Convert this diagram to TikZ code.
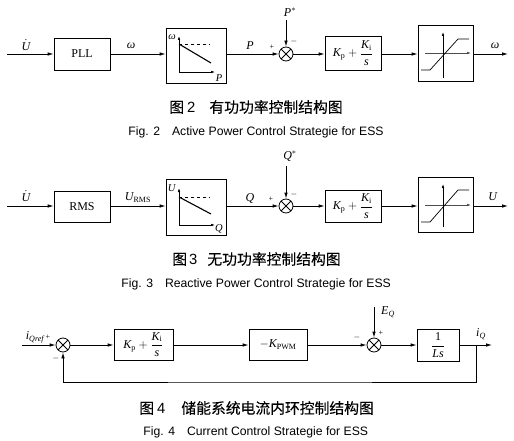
\documentclass[tikz,border=0pt]{standalone}
\usepackage{amsmath}
\usepackage{fontspec}
\setmainfont{Liberation Serif}
\newfontfamily\cjk[FakeBold=0.2]{Noto Sans CJK SC}
\newfontfamily\arialf{Liberation Sans}
\usetikzlibrary{arrows.meta}
\newcommand{\mi}[1]{\textit{#1}}
\newcommand{\pifrac}{$\mi{K}_{\text{p}}+\dfrac{\mi{K}_{\text{i}}}{\mi{s}}$}
\begin{document}
\begin{tikzpicture}[x=1pt,y=-1pt,line width=0.8pt,
  >={Latex[length=6pt,width=3.5pt]},
  box/.style={draw,inner sep=0pt,font=\fontsize{12}{14}\selectfont},
  sumj/.style={circle,draw,minimum size=14pt,inner sep=0pt,
    path picture={\draw (path picture bounding box.north west)--(path picture bounding box.south east)
      (path picture bounding box.north east)--(path picture bounding box.south west);}},
  lbl/.style={inner sep=0pt,font=\fontsize{12}{14}\selectfont},
  sgn/.style={inner sep=0pt,font=\fontsize{8}{9}\selectfont},
  capcn/.style={inner sep=0pt,anchor=west,font=\fontsize{14.8}{16}\selectfont},
  capen/.style={inner sep=0pt,anchor=west,font=\arialf\fontsize{12.2}{14}\selectfont},
  axis/.style={line width=0.6pt,-{Latex[length=4pt,width=2.5pt]}}]
\useasboundingbox (0,0) rectangle (514,441);

% ================= Fig. 2 =================
\coordinate (in2) at (7,54);
\node[box,minimum width=56pt,minimum height=32pt] (pll) at (82,54) {PLL};
\node[box,minimum width=60pt,minimum height=55pt] (dr2) at (196,55.5) {};
\node[sumj] (s2) at (286,54) {};
\node[box,minimum width=56pt,minimum height=34pt] (pi2) at (353,53) {\pifrac};
\node[box,minimum width=55pt,minimum height=56pt] (lim2) at (445.5,53) {};
\coordinate (out2) at (508,54);
\coordinate (ref2) at (286,20);

\draw[->] (in2) -- (pll.west);
\draw[->] (pll.east) -- (pll.east -| dr2.west);
\draw[->] (dr2.east |- s2) -- (s2.west);
\draw[->] (ref2) -- (s2.north);
\draw[->] (s2.east) -- (s2 -| pi2.west);
\draw[->] (pi2.east |- s2) -- (s2 -| lim2.west);
\draw[->] (lim2.east |- s2) -- (out2);

\node[lbl] (l2a) at (26,45) {$\dot{\mi{U}}$};
\node[lbl] (l2b) at (131,46) {\mi{ω}};
\node[lbl] (l2c) at (250,46) {\mi{P}};
\node[lbl] (l2d) at (290,12) {$\mi{P}^{*}$};
\node[lbl] (l2e) at (495,46) {\mi{ω}};
\node[sgn] (p2) at (272,47) {+};
\node[sgn] (m2) at (294,42) {$-$};

% droop
\draw[axis] (179,72) -- (179,36);
\draw[axis] (179,72) -- (215,72);
\draw[line width=0.6pt,dashed] (179,44) -- (210,44);
\draw[line width=1.1pt] (179,44) -- (211,63);
\node[lbl,font=\fontsize{10.5}{12}\selectfont] (d2w) at (172,37) {\mi{ω}};
\node[lbl,font=\fontsize{10.5}{12}\selectfont] (d2p) at (219,78) {\mi{P}};
% limiter
\draw[axis,draw=black!70] (425,53) -- (471,53);
\draw[axis] (443,78) -- (443,32);
\draw[line width=0.7pt] (421,70) -- (430,70) -- (458,39) -- (469,39);

\node[capcn] (c2cn) at (169,107) {{\cjk 图}\hspace{3pt}{\arialf 2}\hspace{14pt}{\cjk 有功功率控制结构图}};
\node[capen] (c2en) at (128,132) {Fig. 2\hspace{12pt}Active Power Control Strategie for ESS};

% ================= Fig. 3 =================
\coordinate (in3) at (7,206);
\node[box,minimum width=56pt,minimum height=31pt] (rms) at (82,206.5) {RMS};
\node[box,minimum width=60pt,minimum height=56pt] (dr3) at (196,207) {};
\node[sumj] (s3) at (286,206) {};
\node[box,minimum width=56pt,minimum height=32pt] (pi3) at (353,206) {\pifrac};
\node[box,minimum width=55pt,minimum height=55pt] (lim3) at (445.5,204.5) {};
\coordinate (out3) at (508,206);
\coordinate (ref3) at (286,166);

\draw[->] (in3) -- (in3 -| rms.west);
\draw[->] (rms.east |- s3) -- (s3 -| dr3.west);
\draw[->] (dr3.east |- s3) -- (s3.west);
\draw[->] (ref3) -- (s3.north);
\draw[->] (s3.east) -- (s3 -| pi3.west);
\draw[->] (pi3.east |- s3) -- (s3 -| lim3.west);
\draw[->] (lim3.east |- s3) -- (out3);

\node[lbl] (l3a) at (26,196) {$\dot{\mi{U}}$};
\node[lbl] (l3b) at (138,198) {$\mi{U}_{\text{RMS}}$};
\node[lbl] (l3c) at (250,198) {\mi{Q}};
\node[lbl] (l3d) at (290,156) {$\mi{Q}^{*}$};
\node[lbl] (l3e) at (493,197) {\mi{U}};
\node[sgn] (p3) at (271,199) {+};
\node[sgn] (m3) at (294,194) {$-$};

% droop
\draw[axis] (179,225) -- (179,188);
\draw[axis] (179,225) -- (215,225);
\draw[line width=0.6pt,dashed] (179,197) -- (210,197);
\draw[line width=1.1pt] (179,197) -- (211,214);
\node[lbl,font=\fontsize{10.5}{12}\selectfont] (d3u) at (172,188) {\mi{U}};
\node[lbl,font=\fontsize{10.5}{12}\selectfont] (d3q) at (219,229) {\mi{Q}};
% limiter
\draw[axis,draw=black!70] (425,205) -- (471,205);
\draw[axis] (443,227) -- (443,184);
\draw[line width=0.7pt] (421,222) -- (430,222) -- (458,190) -- (469,190);

\node[capcn] (c3cn) at (172,259) {{\cjk 图}\hspace{2pt}{\arialf 3}\hspace{10pt}{\cjk 无功功率控制结构图}};
\node[capen] (c3en) at (121,284) {Fig. 3\hspace{12pt}Reactive Power Control Strategie for ESS};

% ================= Fig. 4 =================
\coordinate (in4) at (22,345);
\node[sumj] (s41) at (63,345) {};
\node[box,minimum width=59pt,minimum height=31pt] (pi4) at (143.5,344.5) {\pifrac};
\node[box,minimum width=58pt,minimum height=31pt] (kp) at (278,344.5) {$-\mi{K}_{\text{PWM}}$};
\node[sumj] (s42) at (374,345) {};
\node[box,minimum width=42pt,minimum height=32pt] (ls) at (438,345) {$\dfrac{\text{1}}{\mi{Ls}}$};
\coordinate (br) at (476,345);
\coordinate (out4) at (492,345);
\coordinate (eq) at (374,307);
\coordinate (fb) at (270,382);

\draw[->] (in4) -- (s41.west);
\draw[->] (s41.east) -- (s41 -| pi4.west);
\draw[->] (pi4.east |- s41) -- (s41 -| kp.west);
\draw[->] (kp.east |- s41) -- (s42.west);
\draw[->] (eq) -- (s42.north);
\draw[->] (s42.east) -- (s42 -| ls.west);
\draw[->] (ls.east |- s42) -- (out4);
\draw[->] (br) |- (fb) -| (s41.south);

\node[lbl] (l4a) at (35,337) {$\mi{i}_{\mi{Qref}}$};
\node[sgn] (p41) at (48,337) {+};
\node[sgn] (m41) at (56,358) {$-$};
\node[lbl] (l4b) at (388,312) {$\mi{E}_{\mi{Q}}$};
\node[sgn] (m42) at (357,337) {$-$};
\node[sgn] (p42) at (381,333) {+};
\node[lbl] (l4c) at (481,334) {$\mi{i}_{\mi{Q}}$};

\node[capcn] (c4cn) at (139,408) {{\cjk 图}\hspace{3pt}{\arialf 4}\hspace{16pt}{\cjk 储能系统电流内环控制结构图}};
\node[capen] (c4en) at (143,432) {Fig. 4\hspace{12pt}Current Control Strategie for ESS};
\end{tikzpicture}
\end{document}
